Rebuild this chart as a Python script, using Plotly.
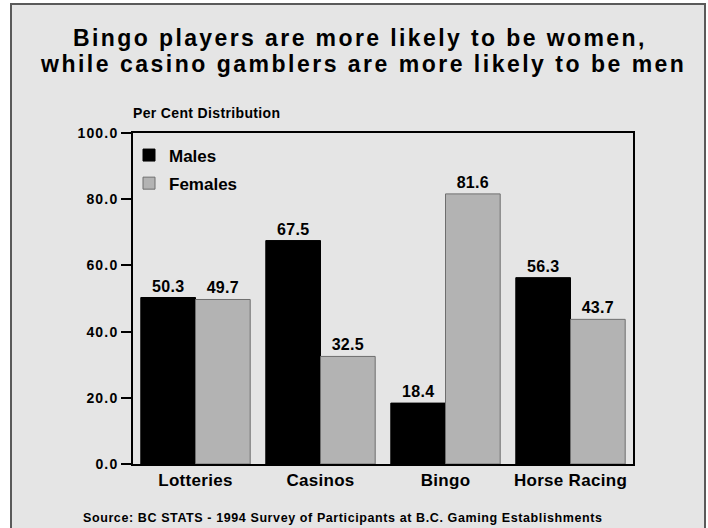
import plotly.graph_objects as go

categories = ["Lotteries", "Casinos", "Bingo", "Horse Racing"]
males = [50.3, 67.5, 18.4, 56.3]
females = [49.7, 32.5, 81.6, 43.7]
y_ticks = [0, 20, 40, 60, 80, 100]
y_tick_labels = ["0.0", "20.0", "40.0", "60.0", "80.0", "100.0"]
title_lines = ["Bingo players are more likely to be women,",
               "while casino gamblers are more likely to be men"]
y_title = "Per Cent Distribution"
source = "Source: BC STATS - 1994 Survey of Participants at B.C. Gaming Establishments"

FONT = "Liberation Sans, Arial, Helvetica, sans-serif"
W, H = 708, 528
L, R, T, B = 133, 75, 133, 64
pw, ph = W - L - R, H - T - B


def px_x(p):
    return (p - L) / pw


def px_y(p):
    return (H - B - p) / ph


def sp(text, ls):
    return f'<span style="letter-spacing:{ls}px"><b>{text}</b></span>'


fig = go.Figure()
fig.add_trace(go.Bar(
    x=categories, y=males, name=sp("Males", 0), legendgroup="m",
    marker=dict(color="#000000", line=dict(color="#000000", width=1)),
    text=[f"{v:.1f}" for v in males], textposition="outside",
    texttemplate=sp("%{text}", 0.3),
    textfont=dict(family=FONT, size=16, color="#000000"),
    cliponaxis=False,
))
fig.add_trace(go.Bar(
    x=categories, y=females, name=sp("Females", 0), legendgroup="f",
    marker=dict(color="#b3b3b3", line=dict(color="#6e6e6e", width=1)),
    text=[f"{v:.1f}" for v in females], textposition="outside",
    texttemplate=sp("%{text}", 0.3),
    textfont=dict(family=FONT, size=16, color="#000000"),
    cliponaxis=False,
))

fig.update_layout(
    width=W, height=H,
    margin=dict(l=L, r=R, t=T, b=B, pad=0),
    paper_bgcolor="#ffffff",
    plot_bgcolor="#ffffff",
    barmode="group", bargap=0.125, bargroupgap=0,
    font=dict(family=FONT, color="#000000"),
    showlegend=True,
    legend=dict(
        x=px_x(129), y=px_y(137.5), xanchor="left", yanchor="top",
        bgcolor="rgba(0,0,0,0)", borderwidth=0,
        font=dict(family=FONT, size=17, color="#000000"),
        tracegroupgap=3, itemwidth=30,
    ),
    xaxis=dict(
        showline=True, linecolor="#000000", linewidth=1.5, mirror=True,
        ticks="", showgrid=False,
        tickvals=categories,
        ticktext=[sp(c, 0.3) for c in categories],
        tickfont=dict(family=FONT, size=17, color="#000000"),
    ),
    yaxis=dict(
        range=[0, 100], tickvals=y_ticks,
        ticktext=[sp(t, 1.2) for t in y_tick_labels],
        showline=True, linecolor="#000000", linewidth=1.5, mirror=True,
        ticks="outside", ticklen=10, tickcolor="#000000", tickwidth=1.5,
        showgrid=False, zeroline=False,
        tickfont=dict(family=FONT, size=14, color="#000000"),
    ),
)

# outer panel with border
fig.add_shape(
    type="rect", xref="paper", yref="paper", layer="below",
    x0=px_x(11), x1=px_x(705), y0=px_y(532), y1=px_y(4),
    fillcolor="#e5e5e5", line=dict(color="#5a5a5a", width=2),
)

# two-line title
fig.add_annotation(
    text=sp(title_lines[0], 2.4), xref="paper", yref="paper",
    x=px_x(360), y=px_y(37.5), xanchor="center", yanchor="middle",
    showarrow=False, font=dict(family=FONT, size=23, color="#000000"),
)
fig.add_annotation(
    text=sp(title_lines[1], 2.5), xref="paper", yref="paper",
    x=px_x(363), y=px_y(64.5), xanchor="center", yanchor="middle",
    showarrow=False, font=dict(family=FONT, size=23, color="#000000"),
)

fig.add_annotation(
    text=sp(y_title, 0.35), xref="paper", yref="paper",
    x=px_x(131), y=px_y(113), xanchor="left", yanchor="middle",
    showarrow=False, font=dict(family=FONT, size=14, color="#000000"),
)
fig.add_annotation(
    text=sp(source, 0.6),
    xref="paper", yref="paper",
    x=px_x(81), y=px_y(518), xanchor="left", yanchor="middle",
    showarrow=False, font=dict(family=FONT, size=12.5, color="#000000"),
)

fig.write_html(
    "out.html",
    config={"displayModeBar": False},
    post_script="document.body.style.margin='0px';",
)
